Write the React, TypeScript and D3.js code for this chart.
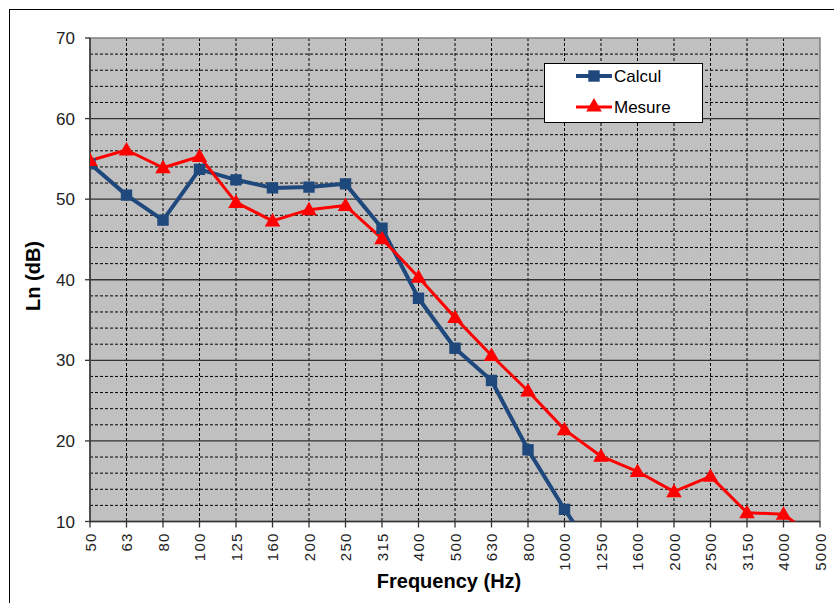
import React from "react";
import * as d3 from "d3";

// Third-octave band centre frequencies (Hz)
const frequencies: string[] = [
  "50", "63", "80", "100", "125", "160", "200", "250", "315", "400", "500",
  "630", "800", "1000", "1250", "1600", "2000", "2500", "3150", "4000", "5000",
];

// Computed impact level (dB); last value lies below the axis minimum
const calcul: (number | null)[] = [
  54.4, 50.5, 47.4, 53.7, 52.4, 51.4, 51.5, 51.9, 46.4, 37.7, 31.5,
  27.5, 18.9, 11.5, 4.9, null, null, null, null, null, null,
];

// Measured impact level (dB)
const mesure: (number | null)[] = [
  54.8, 56.1, 53.9, 55.3, 49.6, 47.3, 48.7, 49.2, 45.1, 40.3, 35.3,
  30.6, 26.2, 21.4, 18.1, 16.2, 13.7, 15.6, 11.1, 10.9, 7.6,
];

const yTicks: number[] = [10, 20, 30, 40, 50, 60, 70];
const yMinor: number[] = d3.range(12, 70, 2).filter((v) => v % 10 !== 0);

const W = 834;
const H = 603;
const left = 90;
const right = 820;
const top = 38;
const bottom = 521.5;

const BLUE = "#1f487c";
const RED = "#ff0000";

export default function App() {
  const x = d3.scalePoint<string>().domain(frequencies).range([left, right]);
  const y = d3.scaleLinear().domain([10, 70]).range([bottom, top]);

  const lineGen = d3
    .line<number | null>()
    .defined((d) => d !== null)
    .x((_, i) => x(frequencies[i]) as number)
    .y((d) => y(d as number));

  const square = d3.symbol().type(d3.symbolSquare).size(130)();
  const triangle = d3.symbol().type(d3.symbolTriangle).size(105)();

  const font = "Arial, 'Liberation Sans', sans-serif";

  return (
    <svg width={W} height={H} style={{ position: "absolute", left: 0, top: 0 }}>
      <rect x={0} y={0} width={W} height={H} fill="#ffffff" />
      {/* chart frame */}
      <rect x={9.5} y={9.5} width={840} height={620} fill="none" stroke="#000" strokeWidth={1} />

      <defs>
        <clipPath id="plotClip">
          <rect x={left} y={top} width={right - left} height={bottom - top} />
        </clipPath>
      </defs>

      {/* plot background */}
      <rect x={left} y={top} width={right - left} height={bottom - top} fill="#c0c0c0" />

      {/* minor horizontal gridlines */}
      {yMinor.map((v) => (
        <line key={"mn" + v} x1={left} x2={right} y1={y(v)} y2={y(v)}
          stroke="#000" strokeWidth={1} strokeDasharray="3,2" />
      ))}
      {/* vertical gridlines */}
      {frequencies.slice(1, -1).map((f) => (
        <line key={"v" + f} x1={x(f)} x2={x(f)} y1={top} y2={bottom}
          stroke="#000" strokeWidth={1} strokeDasharray="3,2" />
      ))}
      {/* major horizontal gridlines */}
      {yTicks.slice(1, -1).map((v) => (
        <line key={"mj" + v} x1={left} x2={right} y1={y(v)} y2={y(v)}
          stroke="#333" strokeWidth={1.3} />
      ))}

      {/* plot border */}
      <rect x={left} y={top} width={right - left} height={bottom - top}
        fill="none" stroke="#808080" strokeWidth={1.5} />

      {/* axes */}
      <line x1={left} x2={left} y1={top} y2={bottom} stroke="#333" strokeWidth={1.5} />
      <line x1={left} x2={right} y1={bottom} y2={bottom} stroke="#333" strokeWidth={1.5} />
      {yTicks.map((v) => (
        <g key={"yt" + v}>
          <line x1={left - 5} x2={left} y1={y(v)} y2={y(v)} stroke="#333" strokeWidth={1.3} />
          <text x={75} y={y(v)} dy="0.36em" textAnchor="end" fontFamily={font}
            fontSize={17} fill="#222">{v}</text>
        </g>
      ))}
      {frequencies.map((f) => (
        <g key={"xt" + f}>
          <line x1={x(f)} x2={x(f)} y1={bottom} y2={bottom + 6} stroke="#333" strokeWidth={1.3} />
          <text transform={`translate(${(x(f) as number) + 5.5},${bottom + 11}) rotate(-90)`}
            textAnchor="end" fontFamily={font} fontSize={15} letterSpacing={1.2}
            fill="#222">{f}</text>
        </g>
      ))}

      {/* series */}
      <g clipPath="url(#plotClip)">
        <path d={lineGen(calcul) ?? ""} fill="none" stroke={BLUE} strokeWidth={4} strokeLinejoin="round" />
        <path d={lineGen(mesure) ?? ""} fill="none" stroke={RED} strokeWidth={3} strokeLinejoin="round" />
        {calcul.map((v, i) =>
          v !== null && v >= 10 ? (
            <path key={"cm" + i} d={square ?? ""} fill={BLUE}
              transform={`translate(${x(frequencies[i])},${y(v)})`} />
          ) : null
        )}
        {mesure.map((v, i) =>
          v !== null && v >= 10 ? (
            <path key={"mm" + i} d={triangle ?? ""} fill={RED}
              transform={`translate(${x(frequencies[i])},${y(v) + 1})`} />
          ) : null
        )}
      </g>

      {/* axis titles */}
      <text transform={`translate(40,276) rotate(-90)`} textAnchor="middle"
        fontFamily={font} fontSize={20} fontWeight="bold" fill="#000">Ln (dB)</text>
      <text x={449} y={588} textAnchor="middle" fontFamily={font} fontSize={20}
        fontWeight="bold" fill="#000">Frequency (Hz)</text>

      {/* legend */}
      <g>
        <rect x={544.5} y={63.5} width={158} height={59} fill="#fff" stroke="#000" strokeWidth={1} />
        <line x1={576} x2={612} y1={76} y2={76} stroke={BLUE} strokeWidth={4} />
        <path d={square ?? ""} fill={BLUE} transform="translate(594,76)" />
        <text x={614} y={76} dy="0.36em" fontFamily={font} fontSize={17} fill="#000">Calcul</text>
        <line x1={576} x2={612} y1={107} y2={107} stroke={RED} strokeWidth={3} />
        <path d={triangle ?? ""} fill={RED} transform="translate(594,107)" />
        <text x={614} y={107} dy="0.36em" fontFamily={font} fontSize={17} fill="#000">Mesure</text>
      </g>
    </svg>
  );
}
